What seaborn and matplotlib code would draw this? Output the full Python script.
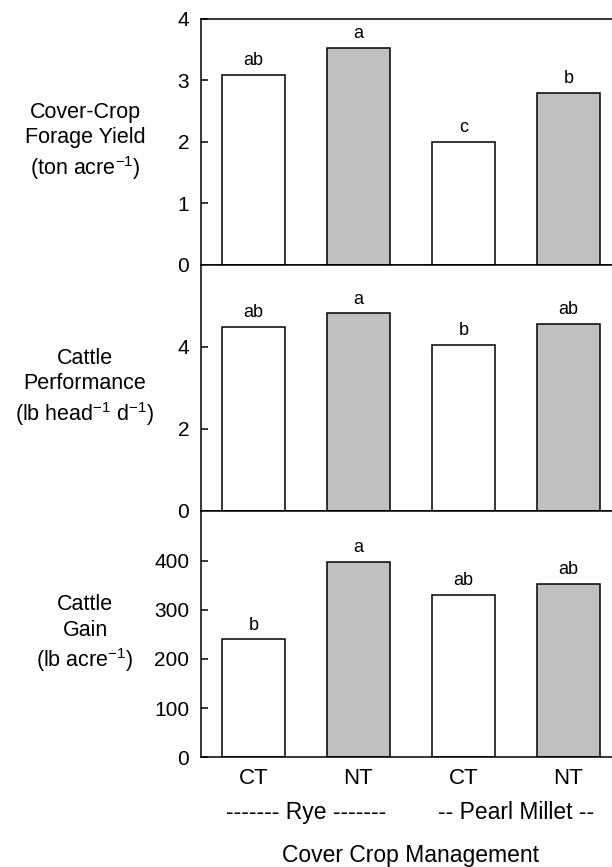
import numpy as np
import pandas as pd
import matplotlib
matplotlib.use("Agg")
import matplotlib.pyplot as plt
import seaborn as sns

# ── Data ─────────────────────────────────────────────
treatments = ["Rye CT", "Rye NT", "PM CT", "PM NT"]
tillage = ["CT", "NT", "CT", "NT"]
crop_groups = ["------- Rye -------", "-- Pearl Millet --"]

forage_yield = [3.09, 3.53, 2.00, 2.79]
forage_letters = ["ab", "a", "c", "b"]

cattle_perf = [4.49, 4.81, 4.05, 4.56]
perf_letters = ["ab", "a", "b", "ab"]

cattle_gain = [240, 397, 330, 353]
gain_letters = ["b", "a", "ab", "ab"]

panel_labels = [
    "Cover-Crop\nForage Yield\n(ton acre$^{-1}$)",
    "Cattle\nPerformance\n(lb head$^{-1}$ d$^{-1}$)",
    "Cattle\nGain\n(lb acre$^{-1}$)",
]
panel_values = [forage_yield, cattle_perf, cattle_gain]
panel_letters = [forage_letters, perf_letters, gain_letters]
panel_ylims = [(0, 4), (0, 6), (0, 500)]
panel_yticks = [[0, 1, 2, 3, 4], [0, 2, 4], [0, 100, 200, 300, 400]]

# ── Style ────────────────────────────────────────────
sns.set_theme(style="ticks")
plt.rcParams["font.family"] = ["Liberation Sans", "DejaVu Sans"]
plt.rcParams["mathtext.fontset"] = "custom"
plt.rcParams["mathtext.rm"] = "Liberation Sans"
plt.rcParams["mathtext.it"] = "Liberation Sans:italic"
plt.rcParams["mathtext.default"] = "regular"
plt.rcParams["axes.linewidth"] = 1.1
for key in ["text.color", "axes.labelcolor", "xtick.color", "ytick.color",
            "axes.edgecolor"]:
    plt.rcParams[key] = "black"
palette = {"CT": "white", "NT": "#c0c0c0"}

fig = plt.figure(figsize=(6.12, 8.67), dpi=100)
left, width, height = 0.3284, 0.6863, 0.2837
bottoms = [0.6947, 0.4110, 0.1265]

axes = []
for i in range(3):
    ax = fig.add_axes([left, bottoms[i], width, height])
    df = pd.DataFrame({"treatment": treatments, "tillage": tillage,
                       "value": panel_values[i]})
    sns.barplot(data=df, x="treatment", y="value", hue="tillage",
                palette=palette, dodge=False, width=0.6, edgecolor="black",
                linewidth=1.1, legend=False, ax=ax)
    ax.set_xlim(-0.5, 3.5)
    ax.set_ylim(*panel_ylims[i])
    ax.set_yticks(panel_yticks[i])
    ax.tick_params(axis="y", direction="in", length=5, width=1.1,
                   labelsize=15, pad=8.5)
    ax.set_xlabel("")
    ax.set_ylabel("")
    for j, (v, lab) in enumerate(zip(panel_values[i], panel_letters[i])):
        ax.annotate(lab, xy=(j, v), xytext=(0, 7), textcoords="offset points",
                    ha="center", va="baseline", fontsize=13)
    ax.text(-0.276, 0.5, panel_labels[i], transform=ax.transAxes,
            ha="center", va="center", multialignment="center",
            fontsize=15.5, linespacing=1.28)
    if i < 2:
        ax.set_xticks([])
    axes.append(ax)

ax = axes[-1]
ax.set_xticks(range(len(treatments)))
ax.set_xticklabels(tillage)
ax.tick_params(axis="x", length=0, labelsize=16, pad=7.5)
trans = ax.get_xaxis_transform()
ax.text(0.5, -0.252, crop_groups[0], transform=trans, ha="center",
        va="baseline", fontsize=16.5)
ax.text(2.5, -0.252, crop_groups[1], transform=trans, ha="center",
        va="baseline", fontsize=16.5)
ax.text(1.5, -0.426, "Cover Crop Management", transform=trans, ha="center",
        va="baseline", fontsize=16.5)

fig.savefig("out.png", dpi=100)
plt.close(fig)
